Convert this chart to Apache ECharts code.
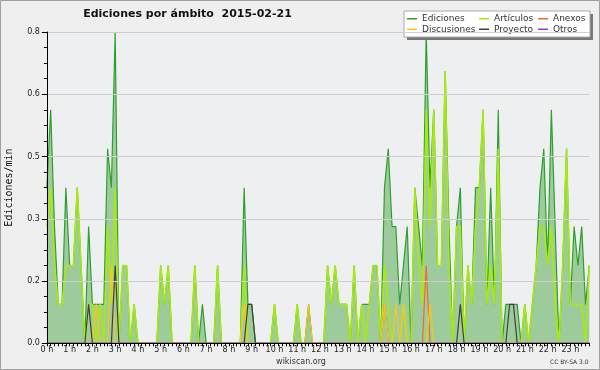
<!DOCTYPE html>
<html><head><meta charset="utf-8">
<script src="https://cdn.jsdelivr.net/npm/echarts/dist/echarts.min.js"></script>
<style>html,body{margin:0;padding:0;background:#efefef}#c{width:600px;height:370px}</style>
</head><body><div id="c"></div>
<script>
// 10-minute bins (144 per day), values in edits/min
const ediciones = [
0.4,0.6,0.3,0.1,0.1,0.4,0.2,0.2,0.4,0.2,
0,0.3,0.1,0.1,0.1,0.1,0.5,0.4,0.8,0,
0.2,0.2,0,0.1,0,0,0,0,0,0,
0.2,0.1,0.2,0,0,0,0,0,0,0.2,
0,0.1,0,0,0,0.2,0,0,0,0,
0,0,0.4,0.1,0.1,0,0,0,0,0,
0.1,0,0,0,0,0,0.1,0,0,0.1,
0,0,0,0,0.2,0.1,0.2,0.1,0.1,0.1,
0,0.2,0,0.1,0.1,0.1,0.2,0.2,0,0.4,
0.5,0.3,0.3,0.1,0.2,0.3,0,0.4,0.3,0.2,
0.8,0.4,0.6,0.2,0.2,0.7,0.3,0,0.3,0.4,
0,0.2,0.1,0.4,0.4,0.6,0.1,0.4,0.1,0.6,
0,0.1,0.1,0.1,0.1,0,0.1,0,0.1,0.2,
0.4,0.5,0.2,0.6,0.3,0,0.2,0.5,0.1,0.3,
0.2,0.3,0.1,0.2];
const articulos = [
0.3,0.4,0.2,0.1,0.1,0.2,0.2,0.2,0.4,0.2,
0,0.1,0.1,0,0.1,0,0.3,0.1,0.4,0,
0.2,0.2,0,0.1,0,0,0,0,0,0,
0.2,0.1,0.2,0,0,0,0,0,0,0.2,
0,0,0,0,0,0.2,0,0,0,0,
0,0,0.2,0,0,0,0,0,0,0,
0.1,0,0,0,0,0,0.1,0,0,0,
0,0,0,0,0.2,0.1,0.2,0.1,0.1,0.1,
0,0.2,0,0.1,0,0.1,0.2,0.2,0,0.2,
0.1,0,0,0,0.1,0,0,0.4,0.2,0.1,
0.6,0.3,0.6,0.2,0.2,0.7,0.2,0,0.3,0.3,
0,0.2,0.1,0.3,0.4,0.6,0.1,0.2,0.1,0.5,
0,0,0,0,0,0,0.1,0,0.1,0.2,
0.3,0.3,0.2,0.3,0.1,0,0.2,0.5,0.1,0.1,
0.1,0.1,0,0.2];
const anexos = [
0,0,0,0,0,0,0,0,0,0, 0,0,0,0,0,0,0,0,0,0,
0,0,0,0,0,0,0,0,0,0, 0,0,0,0,0,0,0,0,0,0,
0,0,0,0,0,0,0,0,0,0, 0,0,0,0,0,0,0,0,0,0,
0,0,0,0,0,0,0,0,0,0, 0,0,0,0,0,0,0,0,0,0,
0,0,0,0,0,0,0,0,0,0.1, 0,0,0,0,0,0,0,0,0,0,
0.2,0,0,0,0,0,0,0,0,0, 0,0,0,0,0,0,0,0,0,0,
0,0,0,0,0,0,0,0,0,0, 0,0,0,0,0,0,0,0,0,0,
0,0,0,0];
const discusiones = [
0,0,0,0,0,0,0,0,0,0, 0,0,0,0.1,0,0,0,0.2,0,0,
0,0,0,0,0,0,0,0,0,0, 0,0,0,0,0,0,0,0,0,0,
0,0,0,0,0,0,0,0,0,0, 0,0,0.1,0,0,0,0,0,0,0,
0,0,0,0,0,0,0,0,0,0.1, 0,0,0,0,0,0,0,0,0,0,
0,0,0,0,0,0,0,0,0,0.1, 0,0,0.1,0,0.1,0,0,0,0,0,
0,0.1,0,0,0,0,0,0,0,0, 0,0,0,0,0,0,0,0,0,0,
0,0,0,0,0,0,0,0,0,0, 0,0,0,0,0,0,0,0,0,0,
0,0,0,0];
const proyecto = [
0,0,0,0,0,0,0,0,0,0, 0,0.1,0,0,0,0,0,0,0.2,0,
0,0,0,0,0,0,0,0,0,0, 0,0,0,0,0,0,0,0,0,0,
0,0,0,0,0,0,0,0,0,0, 0,0,0,0.1,0.1,0,0,0,0,0,
0,0,0,0,0,0,0,0,0,0, 0,0,0,0,0,0,0,0,0,0,
0,0,0,0,0,0,0,0,0,0, 0,0,0,0,0,0,0,0,0,0,
0,0,0,0,0,0,0,0,0,0.1, 0,0,0,0,0,0,0,0,0,0,
0,0,0.1,0.1,0,0,0,0,0,0, 0,0,0,0,0,0,0,0,0,0,
0,0,0,0];
const otros = new Array(144).fill(0);
const hourLabels = ['0 h','1 h','2 h','3 h','4 h','5 h','6 h','7 h','8 h','9 h','10 h','11 h','12 h','13 h','14 h','15 h','16 h','17 h','18 h','19 h','20 h','21 h','22 h','23 h'];
const yTickLabels = ['0.0','0.2','0.3','0.5','0.6','0.8'];
const seriesNames = ['Ediciones','Artículos','Anexos','Discusiones','Proyecto','Otros'];

const FONT = 'DejaVu Sans';
const colors = {
  'Ediciones':'#2f9f2f','Artículos':'#a8ea10','Anexos':'#f06a30',
  'Discusiones':'#f8c818','Proyecto':'#404040','Otros':'#9040e0'
};
const pts = arr => arr.map((v,i)=>[i/6, v]);
const dataMap = {'Ediciones':ediciones,'Artículos':articulos,'Anexos':anexos,'Discusiones':discusiones,'Proyecto':proyecto,'Otros':otros};

const chart = echarts.init(document.getElementById('c'), null, {renderer:'canvas'});
const series = seriesNames.map((n,k)=>{
  const s = {
    name:n, type:'line', data:pts(dataMap[n]), symbol:'none', animation:false,
    lineStyle:{color:colors[n], width: n==='Artículos'?1.6:1.2},
    itemStyle:{color:colors[n]}, z: 2+k
  };
  if(n==='Ediciones'){ s.areaStyle = {color:'#9ecb9c', opacity:1}; }
  return s;
});
const legendBase = {orient:'vertical', icon:'rect', itemWidth:10, itemHeight:1.5, itemGap:1, padding:0,
  textStyle:{fontFamily:FONT, fontSize:9, color:'#333', lineHeight:9.5}, selectedMode:false, z:6};
chart.setOption({
  animation:false,
  backgroundColor:'#efefef',
  grid:{left:46.9, right:10.7, top:32, bottom:26.7, show:true, backgroundColor:'#eeeff1', borderWidth:0},
  xAxis:{type:'value', min:0, max:143/6, interval:1, z:10,
    axisLine:{lineStyle:{color:'#000', width:1}},
    axisTick:{show:true, length:3, lineStyle:{color:'#000'}},
    minorTick:{show:true, splitNumber:6, length:3, lineStyle:{color:'#000'}},
    splitLine:{show:false},
    axisLabel:{margin:3, fontFamily:FONT, fontSize:8, color:'#222',
      formatter:v=>{const r=Math.round(v); return Math.abs(v-r)<1e-6 ? (hourLabels[r]||'') : '';}}
  },
  yAxis:{type:'value', min:0, max:0.8, interval:0.16, z:10,
    axisLine:{show:true, lineStyle:{color:'#000', width:1}},
    axisTick:{show:true, length:5, lineStyle:{color:'#000'}},
    minorTick:{show:true, splitNumber:4, length:3, lineStyle:{color:'#000'}},
    splitLine:{show:true, lineStyle:{color:'#cfcfcf', width:1}},
    axisLabel:{margin:7, fontFamily:FONT, fontSize:8, color:'#222',
      formatter:v=>yTickLabels[Math.round(v/0.16)]||''}
  },
  legend:[
    Object.assign({}, legendBase, {data:['Ediciones','Discusiones'], left:407, top:14}),
    Object.assign({}, legendBase, {data:['Artículos','Proyecto'], left:479, top:14}),
    Object.assign({}, legendBase, {data:['Anexos','Otros'], left:538, top:14})
  ],
  graphic:[
    {type:'rect', z:3, shape:{x:0.5,y:0.5,width:599,height:369}, style:{fill:'none', stroke:'#a0a0a0', lineWidth:1}},
    {type:'rect', z:3, shape:{x:407,y:14,width:186,height:26}, style:{fill:'#777'}},
    {type:'rect', z:3, shape:{x:404,y:11,width:186,height:26}, style:{fill:'#fff', stroke:'#aaa', lineWidth:1}},
    {type:'text', z:10, x:187.5, y:14, style:{text:'Ediciones por ámbito  2015-02-21', fill:'#111',
      font:'bold 11px "DejaVu Sans"', textAlign:'center', textVerticalAlign:'middle'}},
    {type:'text', z:10, x:9.5, y:187.5, rotation:Math.PI/2, style:{text:'Ediciones/min', fill:'#111',
      font:'10px "DejaVu Sans Mono"', textAlign:'center', textVerticalAlign:'middle'}},
    {type:'text', z:10, x:301, y:361.5, style:{text:'wikiscan.org', fill:'#333',
      font:'8px "DejaVu Sans"', textAlign:'center', textVerticalAlign:'middle'}},
    {type:'text', z:10, x:569.3, y:362.5, style:{text:'CC BY-SA 3.0', fill:'#333',
      font:'6px "DejaVu Sans"', textAlign:'center', textVerticalAlign:'middle'}}
  ],
  series: series
});
</script></body></html>
